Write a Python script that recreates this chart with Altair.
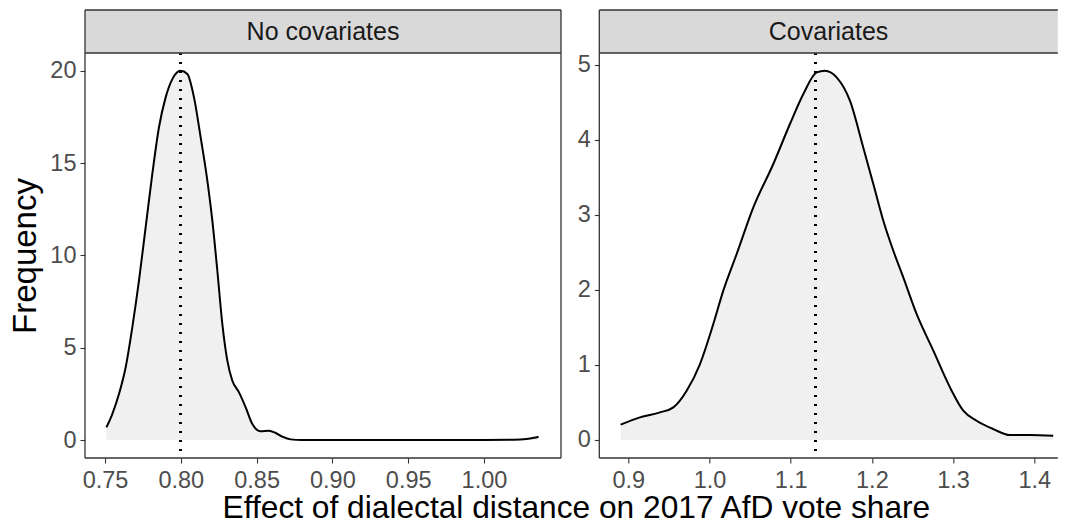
import altair as alt
import pandas as pd

FONT = "Liberation Sans"

panel_names = ["No covariates", "Covariates"]

# Panel 1: No covariates (density)
left_x = [0.7509, 0.7548, 0.7592, 0.7636, 0.7680, 0.7724, 0.7768, 0.7812, 0.7856, 0.7900,
          0.7944, 0.7999, 0.8043, 0.8087, 0.8131, 0.8175, 0.8208, 0.8241, 0.8274, 0.8307,
          0.8340, 0.8384, 0.8428, 0.8472, 0.8527, 0.8582, 0.8626, 0.8670, 0.8725, 0.8800,
          0.9000, 0.9500, 1.0000, 1.0200, 1.0280, 1.0330, 1.0360]
left_d = [0.684, 1.407, 2.49, 3.93, 6.10, 8.63, 11.52, 14.41, 16.94, 18.56,
          19.55, 20.0, 19.83, 18.56, 16.39, 14.05, 11.88, 9.17, 6.28, 4.30,
          3.21, 2.58, 1.77, 0.865, 0.468, 0.504, 0.378, 0.179, 0.034, 0.005,
          0.0, 0.0, 0.0, 0.01, 0.05, 0.12, 0.18]
left_mean = 0.80

# Panel 2: Covariates (density)
right_x = [0.8906, 0.9144, 0.9390, 0.9555, 0.9719, 0.9883, 1.0047, 1.0170, 1.0335, 1.0540,
           1.0786, 1.0991, 1.1156, 1.1320, 1.1422, 1.1566, 1.1730, 1.1894, 1.2018, 1.2141,
           1.2264, 1.2387, 1.2551, 1.2757, 1.2962, 1.3126, 1.3290, 1.3495, 1.3701, 1.3947,
           1.4234]
right_d = [0.204, 0.302, 0.368, 0.435, 0.657, 1.013, 1.546, 1.991, 2.480, 3.102,
           3.680, 4.213, 4.613, 4.902, 4.924, 4.835, 4.524, 3.90, 3.413, 2.924,
           2.524, 2.168, 1.680, 1.191, 0.702, 0.391, 0.257, 0.146, 0.066, 0.066,
           0.057]
right_mean = 1.131

left_xticks = [0.75, 0.80, 0.85, 0.90, 0.95, 1.00]
left_yticks = [0, 5, 10, 15, 20]
right_xticks = [0.9, 1.0, 1.1, 1.2, 1.3, 1.4]
right_yticks = [0, 1, 2, 3, 4, 5]

x_title = "Effect of dialectal distance on 2017 AfD vote share"
y_title = "Frequency"

H = 448
STRIP = 43
BORDER = "#333333"
BW = 1.3


def border(x1, x2, y1, y2):
    return alt.Chart(pd.DataFrame({"k": [0]})).mark_rule(color=BORDER, strokeWidth=BW).encode(
        x=alt.value(x1), x2=alt.value(x2), y=alt.value(y1), y2=alt.value(y2)
    )


def panel(xs, ds, mean, name, xdom, ydom, xticks, yticks, xfmt, width, ytitle, right_border):
    df = pd.DataFrame({"x": xs, "d": ds})
    xsc = alt.Scale(domain=xdom, nice=False, zero=False)
    ysc = alt.Scale(domain=ydom, nice=False, zero=False)
    xax = alt.Axis(values=xticks, format=xfmt, labelPadding=5, labelFlush=False,
                   labelOverlap=False)
    if ytitle:
        yax = alt.Axis(values=yticks, labelPadding=4, titlePadding=7.5, labelFlush=False,
                       labelOverlap=False, titleY=(STRIP + H) / 2)
        yenc = alt.Y("d:Q", scale=ysc, axis=yax, title=ytitle)
    else:
        yax = alt.Axis(values=yticks, labelPadding=4, labelFlush=False, labelOverlap=False)
        yenc = alt.Y("d:Q", scale=ysc, axis=yax, title=None)
    xenc = alt.X("x:Q", scale=xsc, axis=xax, title=None)

    area = alt.Chart(df).mark_area(color="#F0F0F0", interpolate="monotone").encode(
        x=xenc, y=yenc, y2=alt.datum(0)
    )
    rule = alt.Chart(df).mark_rule(color="black", strokeWidth=2, strokeDash=[2, 7]).encode(
        x=alt.datum(mean), y=alt.value(STRIP), y2=alt.value(H)
    )
    line = alt.Chart(df).mark_line(color="black", strokeWidth=2, interpolate="monotone").encode(
        x=xenc, y=yenc
    )
    sdf = pd.DataFrame({"name": [name]})
    strip = alt.Chart(sdf).mark_rect(fill="#D9D9D9").encode(
        x=alt.value(0), x2=alt.value(width), y=alt.value(0), y2=alt.value(STRIP)
    )
    stext = alt.Chart(sdf).mark_text(font=FONT, fontSize=25, color="#1A1A1A",
                                     baseline="middle", align="center").encode(
        x=alt.value(width / 2), y=alt.value(STRIP / 2), text="name:N"
    )
    layers = [area, rule, line, strip, stext,
              border(0, width, 0, 0), border(0, width, STRIP, STRIP), border(0, width, H, H),
              border(0, 0, 0, H)]
    if right_border:
        layers.append(border(width, width, 0, H))
    return alt.layer(*layers).properties(width=width, height=H)


left = panel(left_x, left_d, left_mean, panel_names[0], [0.7368, 1.0508], [-0.975, 23.294],
             left_xticks, left_yticks, ".2f", 476, y_title, True)
right = panel(right_x, right_d, right_mean, panel_names[1], [0.8643, 1.4290], [-0.24, 5.733],
              right_xticks, right_yticks, ".1f", 458.5, None, False)

chart = alt.hconcat(left, right, spacing=14.3).properties(
    title=alt.TitleParams(text=x_title, orient="bottom", anchor="middle", dx=42.5, offset=1.5,
                          font=FONT, fontSize=31.7, fontWeight="normal", color="black"),
    padding={"left": 1, "top": 1, "right": 0, "bottom": -6},
).configure_view(stroke=None).configure_axis(
    domain=False, grid=False, tickColor=BORDER, tickSize=5, tickWidth=1.1,
    labelFont=FONT, labelFontSize=23.5, labelColor="#4D4D4D",
    titleFont=FONT, titleFontSize=33, titleColor="black", titleFontWeight="normal",
)

chart.save("out.html", embed_options={"renderer": "svg", "actions": False})
